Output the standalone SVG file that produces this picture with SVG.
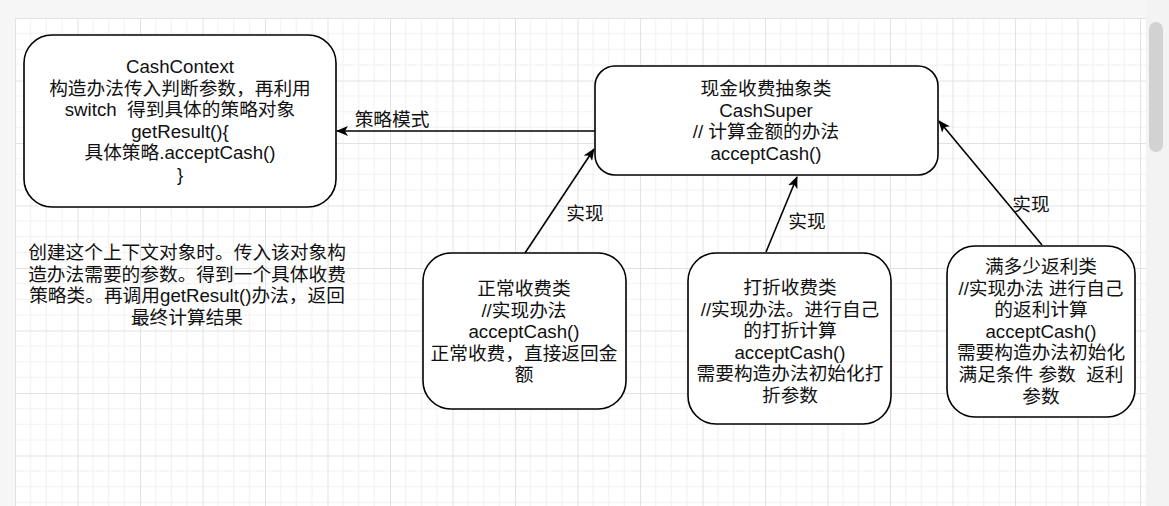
<svg xmlns="http://www.w3.org/2000/svg" width="1169" height="506" viewBox="0 0 1169 506">
  <defs>
    <pattern id="grid" patternUnits="userSpaceOnUse" x="15" y="18" width="62.5" height="62.5">
      <rect width="62.5" height="62.5" fill="#ffffff"/>
      <path d="M15.625 0V62.5M31.25 0V62.5M46.875 0V62.5M0 15.625H62.5M0 31.25H62.5M0 46.875H62.5" stroke="#f1f1f1" stroke-width="1" fill="none"/>
      <path d="M0.5 0V62.5M0 0.5H62.5" stroke="#e2e2e2" stroke-width="1" fill="none"/>
    </pattern>
    <marker id="arr" viewBox="0 0 12 10" refX="11" refY="5" markerWidth="12" markerHeight="10" markerUnits="userSpaceOnUse" orient="auto">
      <path d="M0 0L12 5L0 10L3 5Z" fill="#000"/>
    </marker>
    <style>
      .node rect { fill: #ffffff; stroke: #000000; stroke-width: 1.6; }
      text { font-family: "Liberation Sans", "Noto Sans CJK SC", sans-serif; font-size: 18.7px; fill: #111111; text-anchor: middle; white-space: pre; }
      .edge { stroke: #000000; stroke-width: 1.6; fill: none; marker-end: url(#arr); }
    </style>
  </defs>

  <rect x="0" y="0" width="1169" height="506" fill="#f6f6f6"/>
  <rect x="15" y="18" width="1131" height="488" fill="url(#grid)"/>
  <rect x="1146" y="0" width="23" height="506" fill="#f3f3f3"/>
  <rect x="1149" y="22" width="14" height="130" rx="7" fill="#d2d2d2"/>

  <g id="connectors">
    <line class="edge" x1="595" y1="131" x2="337" y2="131"/>
    <text x="392" y="126">策略模式</text>
    <line class="edge" x1="525" y1="253" x2="594" y2="149"/>
    <text x="585" y="220">实现</text>
    <line class="edge" x1="766" y1="252" x2="797" y2="177"/>
    <text x="807" y="228">实现</text>
    <line class="edge" x1="1042" y1="245" x2="939" y2="121"/>
    <text x="1031" y="211">实现</text>
  </g>

  <g id="cashcontext" class="node">
    <rect x="24" y="35" width="312" height="172" rx="28"/>
    <text x="180" y="73">CashContext<tspan x="180" dy="21.6">构造办法传入判断参数，再利用</tspan><tspan x="180" dy="21.6">switch  得到具体的策略对象</tspan><tspan x="180" dy="21.6">getResult(){</tspan><tspan x="180" dy="21.6">具体策略.acceptCash()</tspan><tspan x="180" dy="21.6">}</tspan></text>
  </g>

  <g id="cashsuper" class="node">
    <rect x="595" y="66" width="343" height="109" rx="20"/>
    <text x="766" y="95">现金收费抽象类<tspan x="766" dy="21.6">CashSuper</tspan><tspan x="766" dy="21.6">// 计算金额的办法</tspan><tspan x="766" dy="21.6">acceptCash()</tspan></text>
  </g>

  <g id="note">
    <text x="187" y="259">创建这个上下文对象时。传入该对象构<tspan x="187" dy="21.6">造办法需要的参数。得到一个具体收费</tspan><tspan x="187" dy="21.6">策略类。再调用getResult()办法，返回</tspan><tspan x="187" dy="21.6">最终计算结果</tspan></text>
  </g>

  <g id="cashnormal" class="node">
    <rect x="423" y="253" width="203" height="156" rx="28"/>
    <text x="524" y="295">正常收费类<tspan x="524" dy="21.6">//实现办法</tspan><tspan x="524" dy="21.6">acceptCash()</tspan><tspan x="524" dy="21.6">正常收费，直接返回金</tspan><tspan x="524" dy="21.6">额</tspan></text>
  </g>

  <g id="cashrebate" class="node">
    <rect x="688" y="253" width="203" height="171" rx="28"/>
    <text x="790" y="294">打折收费类<tspan x="790" dy="21.6">//实现办法。进行自己</tspan><tspan x="790" dy="21.6">的打折计算</tspan><tspan x="790" dy="21.6">acceptCash()</tspan><tspan x="790" dy="21.6">需要构造办法初始化打</tspan><tspan x="790" dy="21.6">折参数</tspan></text>
  </g>

  <g id="cashreturn" class="node">
    <rect x="947" y="246" width="188" height="171" rx="28"/>
    <text x="1041" y="273">满多少返利类<tspan x="1041" dy="21.6">//实现办法 进行自己</tspan><tspan x="1041" dy="21.6">的返利计算</tspan><tspan x="1041" dy="21.6">acceptCash()</tspan><tspan x="1041" dy="21.6">需要构造办法初始化</tspan><tspan x="1041" dy="21.6">满足条件 参数  返利</tspan><tspan x="1041" dy="21.6">参数</tspan></text>
  </g>
</svg>
